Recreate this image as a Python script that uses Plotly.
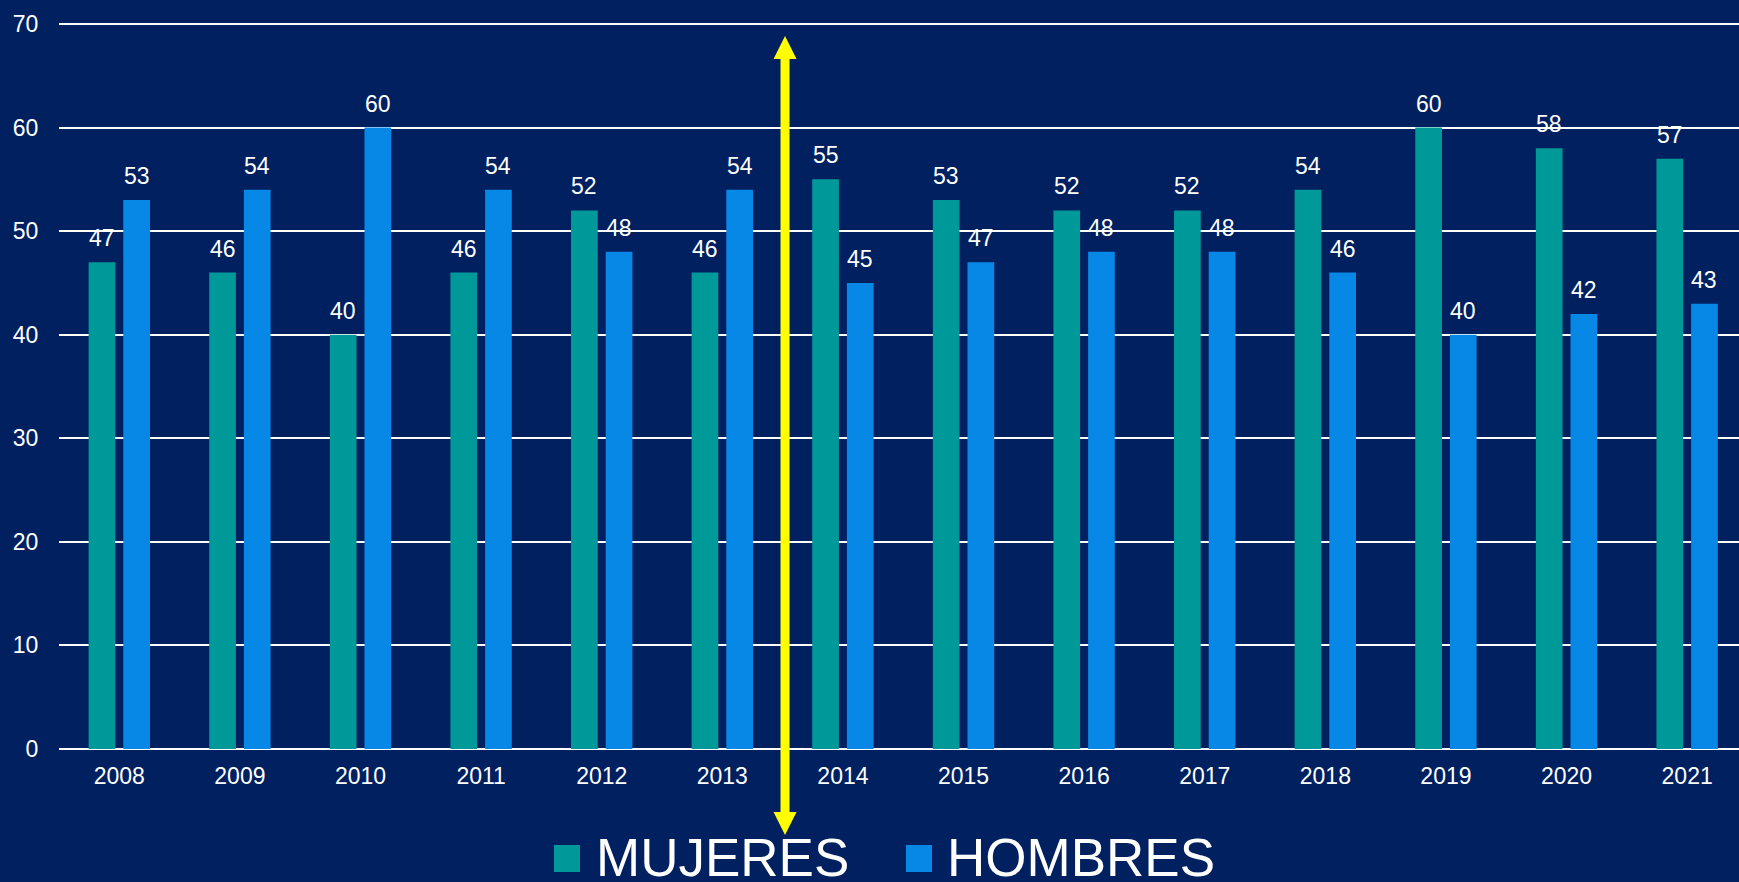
import plotly.graph_objects as go

# ---- data ----
years = ["2008", "2009", "2010", "2011", "2012", "2013", "2014",
         "2015", "2016", "2017", "2018", "2019", "2020", "2021"]
mujeres = [47, 46, 40, 46, 52, 46, 55, 53, 52, 52, 54, 60, 58, 57]
hombres = [53, 54, 60, 54, 48, 54, 45, 47, 48, 48, 46, 40, 42, 43]
series_names = ["MUJERES", "HOMBRES"]
y_ticks = [0, 10, 20, 30, 40, 50, 60, 70]

# ---- style ----
BG = "#002060"
C_MUJ = "#009999"
C_HOM = "#0888E6"
FONT = "Arial, 'Liberation Sans', sans-serif"
W, H = 1739, 882
ML, MR, MT, MB = 59, 0, 22, 133
PW, PH = W - ML - MR, H - MT - MB
Y0_PX = H - MB  # pixel row of value 0
X_RANGE = [-0.5, 13.43]
Y_RANGE = [0, 70 * PH / 725]

def px_x(xd):
    return (xd - X_RANGE[0]) / (X_RANGE[1] - X_RANGE[0])

def px_y(yd):
    return (yd - Y_RANGE[0]) / (Y_RANGE[1] - Y_RANGE[0])

def dx_px(p):
    return p / PW

def dy_px(p):
    return p / PH

def paper_y(row):
    return (Y0_PX - row) / PH

fig = go.Figure()
fig.add_trace(go.Bar(x=years, y=mujeres, name=series_names[0],
                     marker=dict(color=C_MUJ, line=dict(width=0))))
fig.add_trace(go.Bar(x=years, y=hombres, name=series_names[1],
                     marker=dict(color=C_HOM, line=dict(width=0))))

# value labels
annotations = []
OFF = 17.35
for vals, sh in ((mujeres, -OFF), (hombres, OFF)):
    for i, v in enumerate(vals):
        annotations.append(dict(x=i, y=v, xref="x", yref="y", text=str(v),
                                showarrow=False, xshift=sh, yshift=24,
                                yanchor="middle", xanchor="center",
                                font=dict(color="white", size=23, family=FONT)))

# manual legend
LEG = [(series_names[0], C_MUJ, 554, 594), (series_names[1], C_HOM, 906, 945)]
shapes = []
for name, col, sx, tx in LEG:
    shapes.append(dict(type="rect", xref="paper", yref="paper",
                       x0=(sx - ML) / PW, x1=(sx + 26 - ML) / PW,
                       y0=paper_y(872), y1=paper_y(845),
                       fillcolor=col, line=dict(width=0), layer="above"))
    annotations.append(dict(x=(tx - ML) / PW, y=paper_y(857),
                            xref="paper", yref="paper", text=name,
                            showarrow=False, xanchor="left", yanchor="middle",
                            font=dict(color="white", size=53, family=FONT)))

# double-headed yellow arrow
ARROW_X = 5.52
ARROW_TOP = 68.84
ARROW_BOTTOM = -8.3
HEAD_LEN = 23
HEAD_HW = 11.5
SHAFT_HW = 4.5
cx = px_x(ARROW_X)
yt = px_y(ARROW_TOP)
yb = px_y(ARROW_BOTTOM)
pts = [
    (cx, yt),
    (cx + dx_px(HEAD_HW), yt - dy_px(HEAD_LEN)),
    (cx + dx_px(SHAFT_HW), yt - dy_px(HEAD_LEN)),
    (cx + dx_px(SHAFT_HW), yb + dy_px(HEAD_LEN)),
    (cx + dx_px(HEAD_HW), yb + dy_px(HEAD_LEN)),
    (cx, yb),
    (cx - dx_px(HEAD_HW), yb + dy_px(HEAD_LEN)),
    (cx - dx_px(SHAFT_HW), yb + dy_px(HEAD_LEN)),
    (cx - dx_px(SHAFT_HW), yt - dy_px(HEAD_LEN)),
    (cx - dx_px(HEAD_HW), yt - dy_px(HEAD_LEN)),
]
path = "M " + " L ".join(f"{x:.5f},{y:.5f}" for x, y in pts) + " Z"
shapes.append(dict(type="path", xref="paper", yref="paper", path=path,
                   fillcolor="#FFFF00", line=dict(width=0), layer="above"))

fig.update_layout(
    width=W, height=H,
    margin=dict(l=ML, r=MR, t=MT, b=MB, pad=0),
    paper_bgcolor=BG, plot_bgcolor=BG,
    barmode="group", bargap=0.425, bargroupgap=0.23,
    showlegend=False,
    annotations=annotations, shapes=shapes,
    font=dict(family=FONT, color="white"),
)
fig.update_xaxes(type="category", range=X_RANGE, showgrid=False, showline=False,
                 zeroline=False, ticks="outside", ticklen=6,
                 tickcolor="rgba(0,0,0,0)",
                 tickfont=dict(size=23, color="white", family=FONT))
fig.update_yaxes(range=Y_RANGE, tickvals=y_ticks, showgrid=True,
                 gridcolor="white", gridwidth=2, zeroline=True,
                 zerolinecolor="white", zerolinewidth=2, showline=False,
                 ticks="outside", ticklen=15, tickcolor="rgba(0,0,0,0)",
                 tickfont=dict(size=23, color="white", family=FONT))

fig.write_html(
    "out.html",
    config={"displayModeBar": False},
    post_script="document.body.style.margin='0';document.body.style.background='" + BG + "';",
)
